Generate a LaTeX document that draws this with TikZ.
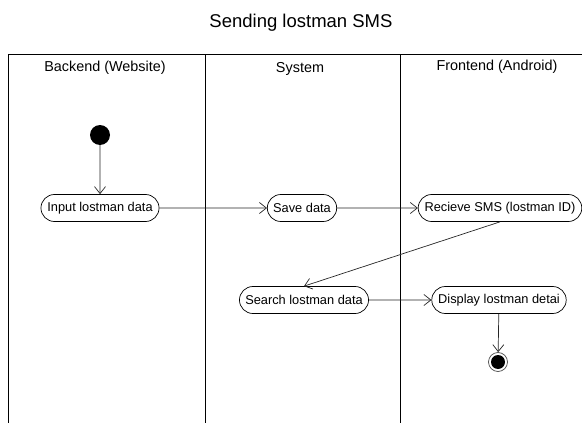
\documentclass[tikz,border=0pt]{standalone}
\usepackage{fontspec}
\setmainfont{Liberation Sans}
\usetikzlibrary{shapes.misc, arrows.meta}
\tikzset{action/.style = {rounded rectangle, draw=black, line width=0.7pt, minimum height=27pt, inner xsep=5pt, font=\fontsize{12.8}{14}\selectfont}}
\tikzset{lane/.style = {font=\fontsize{14.4}{16}\selectfont}}
\tikzset{arrow/.style = {draw=black!85, line width=0.7pt, -{Straight Barb[length=7pt, width=11pt]}}}

\begin{document}
\begin{tikzpicture}[x=1pt, y=-1pt]
	\useasboundingbox (0,0) rectangle (582,423);
	\node (title) at (301,23) {\fontsize{18.5}{20}\selectfont Sending lostman SMS};

	% swimlanes
	\draw[black, line width=0.8pt] (8,423) -- (8,54) -- (582,54);
	\draw[black, line width=0.8pt] (205,54) -- (205,423);
	\draw[black, line width=0.8pt] (400,54) -- (400,423);
	\node (backend)		[lane] at (105,68)	{Backend (Website)};
	\node (system)		[lane] at (300,69)	{System};
	\node (frontend)	[lane] at (497,67)	{Frontend (Android)};

	\node (start)	[circle, fill=black, minimum size=20pt, inner sep=0pt] at (100,135) {};
	\node (input)	[action] at (100,208)	{Input lostman data};
	\node (save)	[action] at (302,208)	{Save data};
	\node (recv)	[action] at (500,208)	{Recieve SMS (lostman ID)};
	\node (search)	[action] at (304,300)	{Search lostman data};
	\node (show)	[action] at (499,300)	{Display lostman detai};
	\node (stop)	[circle, draw=black!70, line width=0.7pt, fill=white, minimum size=19pt, inner sep=0pt] at (498,362) {};
	\fill (stop.center) circle (7pt);

	\draw [arrow] (start)	-- (input);
	\draw [arrow] (input)	-- (save);
	\draw [arrow] (save)	-- (recv);
	\draw [arrow] (recv.south)	-- (search.north);
	\draw [arrow] (search)	-- (show);
	\draw [arrow] (show)	-- (stop);
\end{tikzpicture}
\end{document}
